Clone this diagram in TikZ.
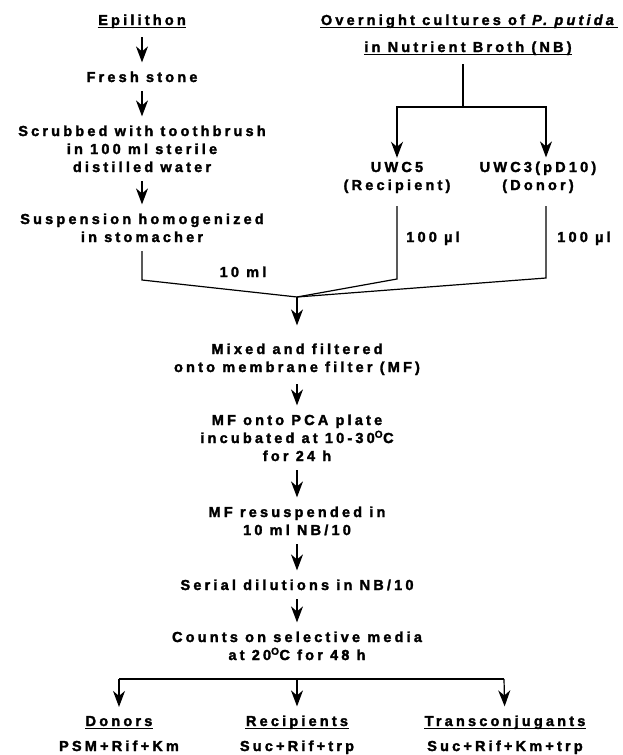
\documentclass[tikz,border=0pt]{standalone}
\usepackage{fontspec}
\setmainfont{Liberation Sans}[LetterSpace=22,BoldFeatures={FakeBold=2},BoldItalicFeatures={FakeBold=2}]
\usetikzlibrary{arrows.meta}
\begin{document}
\begin{tikzpicture}[x=1pt,y=-1pt,line width=1.2pt,
  txt/.style={inner xsep=0pt,inner ysep=8.5pt,align=center,anchor=base,
    font=\fontsize{14.5}{18}\selectfont\bfseries},
  arr/.style={-{Stealth[length=16pt,width=12pt,inset=5pt]}},
  uline/.style={line width=1pt}]
\useasboundingbox (0,0) rectangle (622,755);
% left column
\node[txt] (epi) at (142,25) {Epilithon};
\node[txt] (fresh) at (142,82) {Fresh stone};
\node[txt] (scrub) at (142,172) {Scrubbed with toothbrush\\in 100 ml sterile\\distilled water};
\node[txt] (susp) at (142,242) {Suspension homogenized\\in stomacher};
% right column
\node[txt] (t1) at (469,25) {Overnight cultures of \textit{P. putida}};
\node[txt] (t2) at (468,52) {in Nutrient Broth (NB)};
\node[txt] (uwc5) at (397,190) {UWC5\\(Recipient)};
\node[txt] (uwc3) at (538,190) {UWC3(pD10)\\(Donor)};
\node[txt] (v1) at (433,242) {100 µl};
\node[txt] (v2) at (584,242) {100 µl};
\node[txt] (v3) at (243,277) {10 ml};
% main column
\node[txt] (mix) at (297,372) {Mixed and filtered\\onto membrane filter (MF)};
\node[txt] (pca) at (297,461) {MF onto PCA plate\\incubated at 10-30\textsuperscript{O}C\\for 24 h};
\node[txt] (res) at (297,535) {MF resuspended in\\10 ml NB/10};
\node[txt] (ser) at (297,590) {Serial dilutions in NB/10};
\node[txt] (cnt) at (297,660) {Counts on selective media\\at 20\textsuperscript{O}C for 48 h};
\node[txt] (don) at (119,726) {Donors};
\node[txt] (rec) at (297,726) {Recipients};
\node[txt] (tra) at (505,726) {Transconjugants};
\node[txt] (donm) at (119,751) {PSM+Rif+Km};
\node[txt] (recm) at (297,751) {Suc+Rif+trp};
\node[txt] (tram) at (505,751) {Suc+Rif+Km+trp};
% coordinates
\coordinate (split) at (463,107);
\coordinate (lbot) at (142,280);
\coordinate (rbot) at (397,279);
\coordinate (dbot) at (546,278);
\coordinate (merge) at (297,297);
\coordinate (barL) at (119,679);
\coordinate (barR) at (504,679);
% underlines
\foreach \n in {epi,t1,t2,don,rec,tra}
  \draw[uline] ([yshift=-2.5pt]\n.base west) -- ([yshift=-2.5pt]\n.base east);
% connectors
\draw[arr] (epi) -- (fresh);
\draw[arr] (fresh) -- (scrub);
\draw[arr] (scrub) -- (susp);
\draw (susp) -- (lbot) -- (merge);
\draw (split |- t2.south) -- (split);
\draw[arr,shorten >=-5pt] (split) -| (uwc5);
\draw[arr,shorten >=-5pt] (split) -| ([xshift=8pt]uwc3.north);
\draw[shorten <=4pt] (uwc5) -- (rbot) -- (merge);
\draw[shorten <=4pt] ([xshift=8pt]uwc3.south) -- (dbot) -- (merge);
\draw[arr,shorten >=9pt] (merge) -- (mix);
\draw[arr] (mix) -- (pca);
\draw[arr] (pca) -- (res);
\draw[arr] (res) -- (ser);
\draw[arr] (ser) -- (cnt);
\draw (barL) -- (barR);
\draw[arr] (barL) -- (don);
\draw[arr] (rec |- barL) -- (rec);
\draw[arr] (barR) -- (tra);
\end{tikzpicture}
\end{document}
